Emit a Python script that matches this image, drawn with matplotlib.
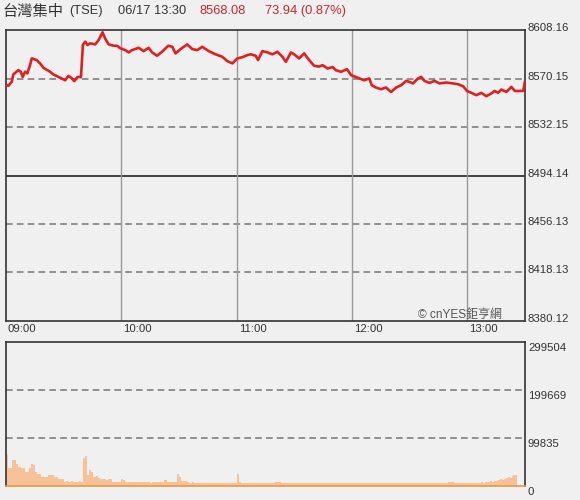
import matplotlib
matplotlib.use('Agg')
import matplotlib.pyplot as plt

# minutes after 09:00 and index level
price_minutes = [0, 1.2, 3.0, 3.8, 6.4, 7.7, 8.7, 9.9, 11.1, 12.5, 13.4, 16.0, 17.7, 19.5,
                 23.0, 24.7, 27.3, 30.8, 32.5, 34.3, 35.5, 37.2, 39.0, 40.0, 41.2, 42.4,
                 43.8, 46.4, 48.2, 50.2, 51.7, 53.4, 56.0, 57.8, 59.5, 62.1, 63.8, 65.6,
                 69.0, 71.6, 74.2, 76.0, 78.6, 81.2, 84.4, 86.5, 88.2, 90.8, 94.3, 96.9,
                 99.5, 102.1, 105.5, 109.0, 112.5, 115.1, 117.8, 120.4, 123.0, 125.6,
                 127.3, 129.9, 131.1, 133.4, 136.0, 138.6, 141.2, 143.8, 145.6, 148.2,
                 149.9, 152.5, 155.1, 157.7, 160.3, 162.9, 164.7, 167.3, 169.9, 171.6,
                 174.3, 177.4, 179.5, 183.0, 186.4, 189.0, 190.3, 192.5, 195.1, 197.7,
                 200.3, 203.0, 205.6, 208.2, 209.9, 211.7, 214.3, 216.0, 217.7, 220.3,
                 222.9, 225.5, 229.0, 232.5, 235.1, 237.8, 239.8, 242.1, 244.7, 247.3,
                 249.9, 252.5, 254.2, 256.0, 257.7, 260.3, 262.9, 264.7, 267.3, 269.1, 270]
price_values = [8565.5, 8564.4, 8567.5, 8573.3, 8576.7, 8575.4, 8571.4, 8575.4, 8574.1,
                8580.6, 8585.9, 8584.6, 8582.0, 8578.5, 8575.4, 8573.3, 8571.4, 8568.8,
                8572.2, 8570.2, 8568.1, 8571.4, 8571.2, 8596.4, 8599.0, 8596.4, 8597.7,
                8596.9, 8600.3, 8606.4, 8601.1, 8596.9, 8595.8, 8595.8, 8593.8, 8592.4,
                8590.6, 8592.4, 8594.2, 8591.6, 8594.2, 8590.6, 8588.0, 8591.1, 8595.8,
                8595.0, 8589.8, 8593.2, 8596.9, 8593.2, 8592.4, 8595.0, 8591.6, 8589.1,
                8587.2, 8583.8, 8582.0, 8585.9, 8586.9, 8588.5, 8589.1, 8588.0, 8584.6,
                8591.6, 8590.6, 8589.1, 8591.1, 8587.2, 8583.2, 8590.6, 8589.1, 8585.9,
                8589.8, 8584.6, 8580.1, 8579.5, 8580.6, 8578.0, 8579.1, 8576.7, 8575.4,
                8577.5, 8572.8, 8570.7, 8568.8, 8570.2, 8564.9, 8563.0, 8561.8, 8563.1,
                8559.6, 8563.1, 8564.9, 8568.3, 8567.5, 8566.3, 8570.2, 8571.4, 8568.3,
                8566.7, 8568.3, 8566.3, 8567.0, 8566.3, 8565.7, 8564.1, 8560.4, 8558.9,
                8557.1, 8558.9, 8556.3, 8558.4, 8560.4, 8558.9, 8561.5, 8559.6, 8563.6,
                8560.4, 8560.4, 8560.4, 8568.1]

# volume per minute, in thousands (09:00 .. 13:29)
volume_thousands = [
    66, 37, 37, 54, 54, 46, 40, 40, 37, 37,
    29, 29, 37, 46, 44, 29, 25, 24, 19, 18,
    19, 18, 23, 22, 23, 19, 18, 15, 14, 15,
    9, 10, 9, 8, 10, 9, 9, 8, 10, 9,
    58, 62, 23, 33, 30, 19, 18, 20, 17, 15,
    14, 15, 13, 15, 14, 8, 9, 8, 8, 9,
    14, 13, 8, 9, 8, 8, 9, 8, 8, 9,
    8, 8, 9, 8, 8, 7, 8, 8, 8, 8,
    8, 9, 12, 12, 8, 8, 9, 8, 8, 25,
    19, 10, 11, 10, 9, 7, 7, 8, 7, 7,
    7, 7, 6, 6, 7, 6, 6, 7, 6, 6,
    6, 7, 6, 6, 6, 7, 6, 6, 6, 7,
    25, 8, 7, 6, 6, 7, 6, 6, 6, 6,
    6, 7, 6, 6, 6, 6, 7, 6, 6, 6,
    8, 9, 8, 7, 6, 6, 7, 6, 6, 6,
    6, 6, 7, 6, 6, 6, 6, 7, 6, 6,
    6, 6, 6, 7, 6, 6, 6, 6, 7, 6,
    6, 6, 6, 6, 7, 6, 6, 6, 6, 6,
    7, 6, 6, 6, 6, 7, 6, 6, 6, 6,
    6, 7, 6, 6, 6, 6, 6, 7, 6, 6,
    6, 6, 7, 6, 6, 6, 6, 6, 7, 6,
    6, 6, 6, 6, 7, 6, 6, 6, 6, 6,
    7, 6, 6, 6, 6, 6, 7, 6, 6, 7,
    8, 9, 8, 7, 6, 6, 7, 6, 6, 6,
    7, 6, 7, 6, 7, 7, 6, 8, 7, 8,
    9, 8, 10, 9, 11, 10, 12, 14, 12, 15,
    16, 18, 17, 20, 22, 23, 0, 0, 0, 0,
]

price_levels = [8608.16, 8570.15, 8532.15, 8494.14, 8456.13, 8418.13, 8380.12]
prev_close = 8494.14
volume_levels = [299504, 199669, 99835, 0]
hour_minutes = [0, 60, 120, 180, 240]
hour_labels = ['09:00', '10:00', '11:00', '12:00', '13:00']

BG = '#f0f0f0'
FONT = ['Liberation Sans', 'Noto Sans CJK TC', 'DejaVu Sans']
W, H = 580.0, 500.0


def fx(px):
    return px / W


def fy(py):
    return 1 - py / H


def draw_header(fig):
    fig.text(fx(2), fy(11), '台灣集中', fontsize=11, color='#333333',
             family=['Noto Sans CJK TC'], va='center')
    fig.text(fx(69), fy(11), '(TSE)', fontsize=9.3, color='#333333', family=FONT, va='center')
    fig.text(fx(118), fy(11), '06/17 13:30', fontsize=9.3, color='#333333', family=FONT, va='center')
    fig.text(fx(200), fy(11), '8568.08', fontsize=9.3, color='#c8282d', family=FONT, va='center')
    fig.text(fx(265), fy(11), '73.94 (0.87%)', fontsize=9.3, color='#c8282d', family=FONT, va='center')


def style_frame(ax, color='#333333'):
    ax.set_facecolor(BG)
    for s in ax.spines.values():
        s.set_color(color)
        s.set_linewidth(1.2)
    ax.set_xticks([])
    ax.set_yticks([])


def draw_price(ax):
    style_frame(ax)
    ax.set_xlim(0, 270)
    ax.set_ylim(price_levels[-1], price_levels[0])
    for lv in price_levels[1:-1]:
        if lv == prev_close:
            ax.axhline(lv, color='#222222', lw=1.2)
        else:
            ax.axhline(lv, color='#808080', lw=1.2, ls=(0, (4, 2.5)))
    for m in hour_minutes[1:]:
        ax.axvline(m, color='#999999', lw=1)
    ax.plot(price_minutes, price_values, color='#e02020', lw=1.9, zorder=3)

    for lv in price_levels:
        ax.annotate('%.2f' % lv, xy=(1, lv), xycoords=('axes fraction', 'data'),
                    xytext=(3, 2), textcoords='offset pixels', va='center', ha='left',
                    fontsize=8.2, color='#333333', family=FONT, annotation_clip=False)
    for m, lab in zip(hour_minutes, hour_labels):
        ax.annotate(lab, xy=(m, 0), xycoords=('data', 'axes fraction'),
                    xytext=(2, -8), textcoords='offset pixels', va='center', ha='left',
                    fontsize=8.2, color='#333333', family=FONT, annotation_clip=False)
    ax.text(0.955, 0.022, '© cnYES鉅亨網', transform=ax.transAxes, ha='right', va='center',
            fontsize=8.6, color='#555555', family=FONT)


def draw_volume(ax):
    style_frame(ax)
    ax.spines['bottom'].set_color('#e69a3c')
    ax.set_xlim(0, 270)
    ax.set_ylim(0, volume_levels[0])
    for lv in volume_levels[1:-1]:
        ax.axhline(lv, color='#808080', lw=1.2, ls=(0, (4, 2.5)))
    vols = [v * 1000 for v in volume_thousands]
    ax.bar(range(len(vols)), vols, width=1.0, align='edge', color='#f7c29a', linewidth=0)
    for lv in volume_levels:
        ax.annotate(str(lv), xy=(1, lv), xycoords=('axes fraction', 'data'),
                    xytext=(3, -6), textcoords='offset pixels', va='center', ha='left',
                    fontsize=8.2, color='#333333', family=FONT, annotation_clip=False)


def main():
    fig = plt.figure(figsize=(5.8, 5.0), dpi=100, facecolor=BG)
    draw_header(fig)
    ax_price = fig.add_axes([fx(6), fy(321), fx(525 - 6), (321 - 30) / H])
    ax_vol = fig.add_axes([fx(6), fy(486), fx(525 - 6), (486 - 342) / H])
    draw_price(ax_price)
    draw_volume(ax_vol)
    fig.savefig('out.png', dpi=100, facecolor=BG)


if __name__ == '__main__':
    main()
